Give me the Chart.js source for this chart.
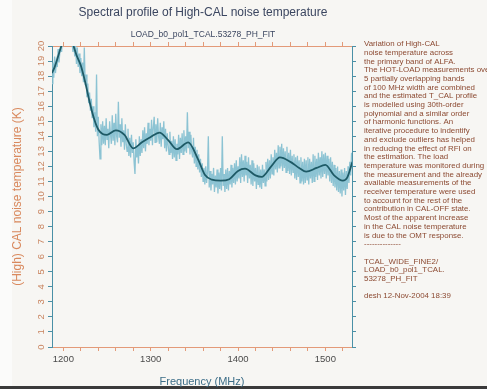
<!DOCTYPE html>
<html>
<head>
<meta charset="utf-8">
<script src="https://cdn.jsdelivr.net/npm/chart.js@4"></script>
<style>
  html, body { margin: 0; padding: 0; background: #f7f6f3; }
  canvas { display: block; }
</style>
</head>
<body>
<canvas id="chart" width="487" height="389"></canvas>
<script>
/* High-CAL noise temperature spectrum with harmonic fit */

// -------------------------
// Data
// -------------------------
const FREQ_MIN = 1187;
const FREQ_MAX = 1530.5;
const FREQ_START = 1187;      // first channel (MHz)
const FREQ_STEP = 1;          // channel spacing (MHz)

// measured T_CAL per channel (K), 1187..1530 MHz
const measuredTemp = [
  17.5, 18.9, 17.9, 19.3, 18.2, 19.0, 18.6, 19.8, 18.9, 19.6,
  20.1, 19.6, 20.7, 20.3, 21.2, 20.5, 20.9, 21.4, 20.6, 21.0,
  21.3, 20.4, 20.9, 20.2, 19.6, 20.4, 19.3, 20.1, 18.8, 19.9,
  18.6, 19.5, 18.2, 19.2, 18.0, 18.9, 17.6, 19.9, 17.4, 18.1,
  16.6, 17.5, 16.2, 16.9, 15.7, 16.5, 15.2, 16.0, 14.6, 15.6,
  14.3, 18.1, 14.0, 15.3, 13.6, 12.5, 14.8, 13.4, 15.0, 13.5,
  14.7, 13.4, 15.2, 13.8, 14.5, 13.2, 15.0, 14.1, 13.5, 15.4,
  13.7, 14.9, 13.4, 15.5, 14.0, 13.6, 16.3, 13.9, 14.8, 13.3,
  15.2, 13.6, 14.4, 13.1, 14.8, 13.5, 13.0, 14.5, 12.7, 13.9,
  12.6, 14.1, 12.9, 13.6, 12.3, 11.5, 13.8, 12.6, 13.4, 12.2,
  14.0, 12.7, 13.8, 12.9, 14.4, 13.2, 14.6, 13.0, 14.2, 13.5,
  14.9, 13.4, 14.5, 13.7, 15.1, 13.4, 14.6, 15.3, 13.6, 14.8,
  13.6, 15.2, 14.0, 13.5, 14.9, 13.3, 14.6, 13.8, 15.0, 13.2,
  14.5, 13.0, 14.2, 13.4, 12.8, 14.3, 12.9, 13.7, 12.5, 14.0,
  12.6, 13.8, 12.4, 13.5, 12.8, 14.1, 12.5, 13.9, 12.9, 14.2,
  12.8, 14.4, 13.0, 14.0, 12.9, 15.6, 13.2, 14.3, 12.8, 14.1,
  13.0, 12.6, 13.9, 12.2, 13.3, 12.0, 13.1, 11.8, 12.8, 11.6,
  12.5, 11.3, 12.2, 11.0, 11.9, 10.8, 12.0, 10.9, 11.6, 14.0,
  10.6, 11.7, 10.4, 11.5, 10.8, 11.9, 10.3, 11.4, 10.6, 11.8,
  10.2, 11.6, 10.5, 11.9, 10.4, 14.0, 10.7, 11.5, 10.3, 11.8,
  10.5, 11.9, 10.4, 11.7, 10.8, 12.1, 10.6, 11.9, 10.9, 12.2,
  10.8, 12.4, 11.0, 12.0, 11.2, 12.6, 10.9, 12.8, 11.3, 12.4,
  11.0, 12.7, 11.4, 12.3, 10.9, 12.6, 11.2, 12.1, 10.8, 12.4,
  10.7, 12.2, 11.0, 11.9, 10.5, 12.1, 10.8, 12.0, 10.6, 11.8,
  10.5, 12.1, 10.9, 11.8, 10.7, 12.3, 11.0, 12.5, 11.1, 12.4,
  11.2, 12.8, 11.5, 12.6, 11.4, 13.1, 11.8, 12.9, 11.6, 13.4,
  11.9, 13.3, 12.0, 13.5, 11.7, 13.2, 11.9, 13.0, 11.6, 13.3,
  11.7, 12.9, 11.5, 13.1, 11.4, 12.7, 11.6, 12.8, 11.2, 12.6,
  11.1, 12.7, 11.3, 12.4, 10.9, 12.6, 11.0, 12.3, 10.8, 12.5,
  10.9, 12.4, 11.1, 12.6, 10.8, 12.5, 11.2, 12.3, 10.9, 12.8,
  11.0, 12.7, 11.3, 12.5, 11.1, 12.9, 11.4, 12.6, 11.2, 13.0,
  11.3, 12.8, 11.5, 12.9, 11.2, 12.7, 11.4, 12.5, 11.0, 12.6,
  10.9, 12.3, 10.7, 12.1, 10.6, 11.9, 10.4, 12.0, 10.3, 11.7,
  10.2, 11.8, 10.0, 11.6, 10.4, 11.9, 10.1, 11.7, 10.5, 12.0,
  10.9, 12.3, 11.4, 12.9
];

// fitted profile (polynomial + harmonic model)
const fitFreq = [1187, 1190, 1195, 1200, 1205, 1210, 1215, 1220, 1225, 1230, 1235, 1240, 1245,
  1250, 1260, 1270, 1280, 1290, 1300, 1310, 1320, 1330, 1343, 1354, 1362, 1370, 1380, 1390,
  1400, 1408, 1420, 1427, 1438, 1448, 1460, 1470, 1478, 1490, 1500, 1510, 1520, 1525, 1531];
const fitTemp = [18.2, 18.6, 19.5, 20.4, 21.0, 20.3, 19.4, 18.7, 17.6, 16.3, 15.2, 14.45, 14.15,
  14.1, 14.4, 14.1, 13.2, 13.6, 13.95, 14.25, 13.75, 13.15, 13.6, 12.5, 11.45, 11.12, 11.05, 11.15,
  11.7, 11.85, 11.4, 11.3, 12.0, 12.6, 12.3, 11.9, 11.65, 11.9, 12.1, 11.4, 11.05, 11.25, 12.3];

const freqLabels = [1200, 1300, 1400, 1500];
const tempTicks = [0, 1, 2, 3, 4, 5, 6, 7, 8, 9, 10, 11, 12, 13, 14, 15, 16, 17, 18, 19, 20];

const notes = [
  "Variation of High-CAL",
  "noise temperature across",
  "the primary band of ALFA.",
  "The HOT-LOAD measurements over",
  "5 partially overlapping bands",
  "of 100 MHz width are combined",
  "and the estimated T_CAL profile",
  "is modelled using 30th-order",
  "polynomial and a similar order",
  "of harmonic functions. An",
  "iterative procedure to indentify",
  "and exclude outliers has helped",
  "in reducing the effect of RFI on",
  "the estimation. The load",
  "temperature was monitored during",
  "the measurement and the already",
  "available measurements of the",
  "receiver temperature were used",
  "to account for the rest of the",
  "contribution in CAL-OFF state.",
  "Most of the apparent increase",
  "in the CAL noise temperature",
  "is due to the OMT response.",
  "--------------",
  "",
  "TCAL_WIDE_FINE2/",
  "LOAD_b0_pol1_TCAL.",
  "53278_PH_FIT",
  "",
  "desh 12-Nov-2004 18:39"
];

// -------------------------
// Colours / fonts
// -------------------------
const BG = "#f7f6f3";
const AXIS_H = "#e39a78";
const AXIS_V = "#4a90a6";
const FONT = "'Liberation Sans', Arial, sans-serif";

const measuredPoints = measuredTemp.map((t, i) => ({ x: FREQ_START + i * FREQ_STEP, y: t }));
const fitPoints = fitFreq.map((f, i) => ({ x: f, y: fitTemp[i] }));

// minor ticks every 20 MHz
function freqMinorTicks(scale) {
  const out = [];
  for (let f = 1200; f <= FREQ_MAX; f += 20) out.push({ value: f });
  scale.ticks = out;
}
function tempTickList(scale) {
  scale.ticks = tempTicks.map(v => ({ value: v }));
}

// -------------------------
// Plugins
// -------------------------
const backdrop = {
  id: "backdrop",
  beforeDraw(chart) {
    const { ctx, width, height } = chart;
    ctx.save();
    ctx.fillStyle = BG;
    ctx.fillRect(0, 0, width, height);
    ctx.fillStyle = "#fbfbfa";
    ctx.fillRect(0, 0, 12, height - 3);
    ctx.fillStyle = "#3a3a3a";
    ctx.fillRect(0, height - 3, width, 3);
    ctx.restore();
  }
};

const annotations = {
  id: "annotations",
  afterDraw(chart) {
    const { ctx } = chart;
    ctx.save();
    ctx.textBaseline = "middle";

    ctx.textAlign = "center";
    ctx.fillStyle = "#3b4660";
    ctx.font = `12px ${FONT}`;
    ctx.fillText("Spectral profile of High-CAL noise temperature", 203, 13);
    ctx.font = `8.5px ${FONT}`;
    ctx.fillText("LOAD_b0_pol1_TCAL.53278_PH_FIT", 203, 35);

    ctx.textAlign = "left";
    ctx.fillStyle = "#8c4a32";
    ctx.font = `7.9px ${FONT}`;
    notes.forEach((line, i) => {
      if (line) ctx.fillText(line, 364, 44 + i * 8.7);
    });
    ctx.restore();
  }
};

// -------------------------
// Chart
// -------------------------
new Chart(document.getElementById("chart"), {
  type: "line",
  data: {
    datasets: [
      {
        label: "measured",
        data: measuredPoints,
        borderColor: "#8cc3d3",
        borderWidth: 1.3,
        pointRadius: 0,
        tension: 0,
        order: 2
      },
      {
        label: "fit",
        data: fitPoints,
        borderColor: "#1e5a66",
        borderWidth: 1.8,
        pointRadius: 0,
        cubicInterpolationMode: "monotone",
        order: 1
      }
    ]
  },
  options: {
    responsive: false,
    devicePixelRatio: 1,
    animation: false,
    layout: { padding: { left: 0, top: 46, right: 135, bottom: 0 } },
    plugins: {
      legend: { display: false },
      tooltip: { enabled: false },
      title: { display: false }
    },
    scales: {
      x: {
        type: "linear",
        position: "bottom",
        min: FREQ_MIN,
        max: FREQ_MAX,
        afterBuildTicks: freqMinorTicks,
        afterFit: s => { s.height = 42; },
        ticks: {
          autoSkip: false,
          maxRotation: 0,
          padding: 3,
          color: "#4a4a4a",
          font: { family: FONT, size: 9.5 },
          callback: v => freqLabels.includes(v) ? String(v) : ""
        },
        grid: { drawOnChartArea: false, tickLength: 4, color: AXIS_H },
        border: { color: AXIS_H, width: 1 },
        title: {
          display: true,
          text: "Frequency (MHz)",
          color: "#3d6e88",
          font: { family: FONT, size: 11 },
          padding: { top: 0, bottom: 0 }
        }
      },
      x2: {
        type: "linear",
        axis: "x",
        position: "top",
        min: FREQ_MIN,
        max: FREQ_MAX,
        afterBuildTicks: freqMinorTicks,
        afterFit: s => { s.height = 0; },
        ticks: { display: false },
        grid: { drawOnChartArea: false, tickLength: 4, color: AXIS_H },
        border: { color: AXIS_H, width: 1 }
      },
      y: {
        type: "linear",
        position: "left",
        min: 0,
        max: 20,
        afterBuildTicks: tempTickList,
        afterFit: s => { s.width = 52; },
        ticks: {
          autoSkip: false,
          minRotation: 90,
          maxRotation: 90,
          crossAlign: "center",
          padding: 1,
          color: "#c8835e",
          font: { family: FONT, size: 9.5 }
        },
        grid: { drawOnChartArea: false, tickLength: 4, color: AXIS_V },
        border: { color: AXIS_V, width: 1 },
        title: {
          display: true,
          text: "(High) CAL noise temperature (K)",
          color: "#d9895e",
          font: { family: FONT, size: 12 },
          padding: { top: 10, bottom: 0 }
        }
      },
      y2: {
        type: "linear",
        axis: "y",
        position: "right",
        min: 0,
        max: 20,
        afterBuildTicks: tempTickList,
        afterFit: s => { s.width = 0; },
        ticks: { display: false },
        grid: { drawOnChartArea: false, tickLength: 4, color: AXIS_V },
        border: { color: AXIS_V, width: 1 }
      }
    }
  },
  plugins: [backdrop, annotations]
});
</script>
</body>
</html>
